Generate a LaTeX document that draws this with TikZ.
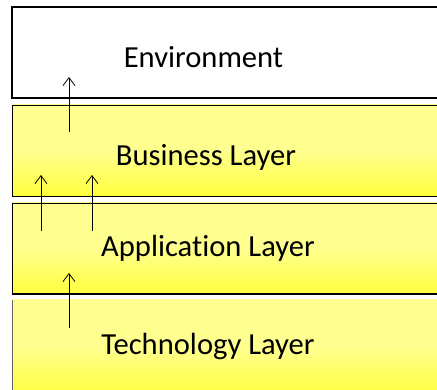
\documentclass[tikz,border=0pt]{standalone}
\usepackage{fontspec}
\setmainfont{Carlito}[Ligatures=NoCommon]
\usetikzlibrary{arrows.meta}
\pgfdeclareverticalshading{layershade}{100bp}{
  color(0bp)=(yellow);
  color(6bp)=(yellow);
  color(30bp)=(yellow!70!white);
  color(50bp)=(yellow!44!white);
  color(100bp)=(yellow!42!white)}
\tikzset{
  box/.style={anchor=north west, minimum width=470pt, inner sep=0pt, outer sep=0pt},
  envbox/.style={box, draw=black, line width=1.6pt, fill=white, minimum height=91pt},
  layerbox/.style={box, shading=layershade, minimum height=91pt},
  lbl/.style={anchor=base, font=\fontsize{30.6}{36}\selectfont, inner sep=0pt},
  uparrow/.style={-{Straight Barb[length=8pt,width=12pt]}, line width=0.8pt, black}
}
\begin{document}
\begin{tikzpicture}[x=1pt,y=-1pt]
\useasboundingbox (0,0) rectangle (437,390);
\clip (0,0) rectangle (437,390);
% boxes
\node[envbox] (env) at (12,7) {};
\node[layerbox, draw=black, line width=0.8pt] (bus) at (12,105) {};
\node[layerbox] (app) at (12,203) {};
\node[layerbox, minimum height=95pt] (tech) at (12,300) {};
\draw[line width=0.8pt] (app.north west) -- (app.north east);
\draw[line width=0.8pt] (app.north west) -- (app.south west);
\draw[line width=2pt] (app.south west) -- (app.south east);
\draw[line width=0.6pt, black!60] (tech.north west) -- (tech.south west);
% labels
\node[lbl] (envt) at (203.5,68) {Environment};
\node[lbl] (bust) at (206,166) {Business Layer};
\node[lbl] (appt) at (208,257) {Application Layer};
\node[lbl] (techt) at (208,355) {Technology Layer};
% arrow ends
\coordinate (a1s) at (69,132);
\coordinate (a1e) at (69,77);
\coordinate (a2s) at (41,231);
\coordinate (a2e) at (41,175);
\coordinate (a3s) at (92,231);
\coordinate (a3e) at (92,175);
\coordinate (a4s) at (69,328);
\coordinate (a4e) at (69,273);
\draw[uparrow] (a1s) -- (a1e);
\draw[uparrow] (a2s) -- (a2e);
\draw[uparrow] (a3s) -- (a3e);
\draw[uparrow] (a4s) -- (a4e);
\end{tikzpicture}
\end{document}
